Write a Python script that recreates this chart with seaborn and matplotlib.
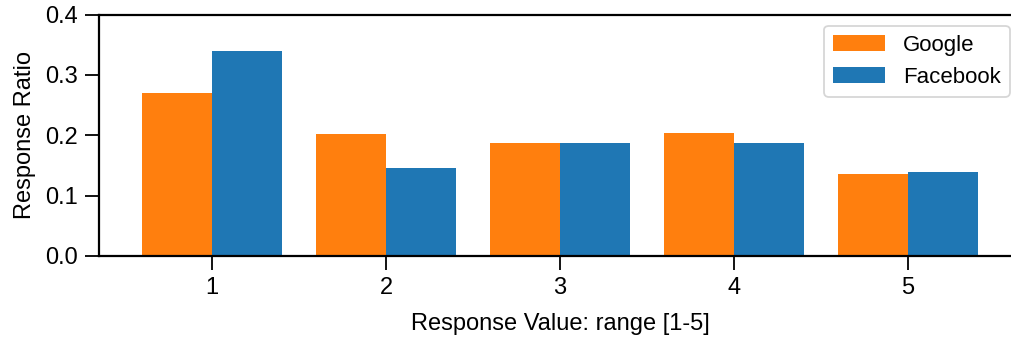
import matplotlib
matplotlib.use("Agg")
import matplotlib.pyplot as plt
import seaborn as sns
import pandas as pd

# Response distributions per rating value
response_values = ["1", "2", "3", "4", "5"]
google_ratio = [0.2705, 0.2025, 0.1875, 0.204, 0.136]
facebook_ratio = [0.340, 0.146, 0.1875, 0.1875, 0.139]
sources = ["Google", "Facebook"]

df = pd.DataFrame({
    "value": response_values * 2,
    "ratio": google_ratio + facebook_ratio,
    "source": [sources[0]] * len(response_values) + [sources[1]] * len(response_values),
})

sns.set_style("ticks")
plt.rcParams["font.family"] = ["Liberation Sans", "DejaVu Sans"]
plt.rcParams["font.size"] = 17
for key in ["text.color", "axes.labelcolor", "xtick.color", "ytick.color"]:
    plt.rcParams[key] = "black"

fig = plt.figure(figsize=(10.11, 3.38), dpi=100)
ax = fig.add_axes([0.0979, 0.2430, 0.9120, 0.7138])

sns.barplot(data=df, x="value", y="ratio", hue="source",
            palette=["#ff7f0e", "#1f77b4"], errorbar=None,
            saturation=1, width=0.8, linewidth=0, ax=ax)

ax.set_xlim(-0.65, 4.65)
ax.set_ylim(0, 0.4)
ax.set_yticks([0.0, 0.1, 0.2, 0.3, 0.4])
ax.set_yticklabels(["0.0", "0.1", "0.2", "0.3", "0.4"])
ax.set_xlabel("Response Value: range [1-5]", fontsize=17, labelpad=10)
ax.set_ylabel("Response Ratio", fontsize=17, labelpad=7)
ax.tick_params(axis="both", labelsize=17, length=10, width=1.3, color="black", pad=5)

for side in ["left", "bottom", "top", "right"]:
    ax.spines[side].set_visible(True)
    ax.spines[side].set_linewidth(1.6)
    ax.spines[side].set_color("black")

leg = ax.legend(loc="upper right", fontsize=16, frameon=True, fancybox=True,
                handlelength=2.35, title=None)
leg.get_frame().set_edgecolor("0.8")
leg.get_frame().set_linewidth(1.3)

fig.savefig("out.png", dpi=100)
